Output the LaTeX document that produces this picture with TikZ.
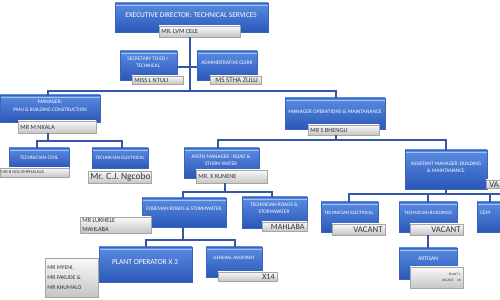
\documentclass[tikz,border=0pt]{standalone}
\usepackage{fontspec}
\setmainfont{Carlito}
\definecolor{boxtop}{HTML}{5A8CE2}
\definecolor{boxbot}{HTML}{2B57B8}
\definecolor{boxedge}{HTML}{3A64C0}
\definecolor{linec}{HTML}{3557A8}
\tikzset{
  bluebox/.style={draw=boxedge, line width=0.3pt, top color=boxtop, bottom color=boxbot, inner sep=0pt,
    path picture={\draw[color=boxtop!55!white, line width=0.7pt] ([yshift=-0.05cm]path picture bounding box.north west) -- ([yshift=-0.05cm]path picture bounding box.north east);}},
  namebox/.style={draw=gray!70, line width=0.3pt, top color=white!96!gray, bottom color=gray!45, inner sep=0pt},
  wlbl/.style={text=white, inner sep=0pt, align=center, font=\fontsize{3}{3.7}\selectfont},
  nlbl/.style={text=black!80, inner sep=0pt, align=left, font=\fontsize{3.6}{4.4}\selectfont},
  conn/.style={draw=linec, line width=0.7pt},
}
\newcommand\obox[5]{\node[bluebox, minimum width={(#4-#2)*0.02cm}, minimum height={(#5-#3)*0.02cm}] (#1) at ({(#2+#4)/2},{(#3+#5)/2}) {};}
\newcommand\nbox[5]{\node[namebox, minimum width={(#4-#2)*0.02cm}, minimum height={(#5-#3)*0.02cm}] (#1) at ({(#2+#4)/2},{(#3+#5)/2}) {};}
\begin{document}
\begin{tikzpicture}[x=0.02cm, y=-0.02cm]
\useasboundingbox (0,0) rectangle (500,300);
\clip (0,0) rectangle (500,300);
\fill[white] (0,0) rectangle (500,300);

% Executive director
\obox{exec}{115}{3}{268}{32}
\node[wlbl, font=\fontsize{4.2}{5}\selectfont] (exect) at (191,15) {EXECUTIVE DIRECTOR: TECHNICAL SERVICES};
\nbox{execn}{159}{26}{240}{37}
\node[nlbl, anchor=west] (execnt) at (161,31.5) {MR. LVM CELE};

% Secretary / admin
\obox{sec}{120}{51}{177}{80}
\node[wlbl, font=\fontsize{3}{3.8}\selectfont] (sect) at (148,62) {SECRETARY TO ED /\\TECHNICAL};
\nbox{secn}{132}{76}{183}{84}
\node[nlbl, anchor=west] (secnt) at (134,80) {MISS L NTULI};
\obox{adm}{197}{51}{257}{80}
\node[wlbl, font=\fontsize{3}{3.8}\selectfont] (admt) at (227,63) {ADMINISTRATIVE CLERK};
\nbox{admn}{210}{76}{261}{84}
\node[nlbl, anchor=west, font=\fontsize{4}{4.6}\selectfont] (admnt) at (215,80) {MS STHA ZULU};

% Managers
\obox{pmu}{0}{95}{100}{122}
\node[wlbl, font=\fontsize{3}{4.8}\selectfont] (pmut) at (50,106) {MANAGER:\\PMU \& BUILDING CONSTRUCTION};
\nbox{pmun}{18}{121}{96}{133}
\node[nlbl, anchor=west] (pmunt) at (20,127) {MR M NKALA};
\obox{ops}{285}{98}{385}{129}
\node[wlbl, font=\fontsize{3.1}{3.8}\selectfont] (opst) at (335,112) {MANAGER OPERATIONS \& MAINTANANCE};
\nbox{opsn}{308}{125}{379}{135}
\node[nlbl, anchor=west] (opsnt) at (310,130) {MR S BHENGU};

% PMU technicians
\obox{tciv}{9}{148}{69}{168}
\node[wlbl, font=\fontsize{3}{3.8}\selectfont] (tcivt) at (39,158) {TECHNICIAN CIVIL};
\nbox{tcivn}{0}{168}{69}{177}
\node[nlbl, anchor=west, font=\fontsize{2.6}{3.2}\selectfont] (tcivnt) at (1,172.5) {MR B NGCAMPHALALA};
\obox{tel}{92}{148}{148}{168}
\node[wlbl, font=\fontsize{2.8}{3.6}\selectfont] (telt) at (120,158) {TECHNICIAN ELECTRICAL};
\nbox{teln}{88}{171}{151}{183}
\node[nlbl, anchor=west, font=\fontsize{5.4}{6.2}\selectfont] (telnt) at (90,177) {Mr. C.J. Ngcobo};

% Asst manager roads
\obox{asst}{184}{148}{259}{178}
\node[wlbl, font=\fontsize{3}{4}\selectfont] (asstt) at (221,160) {ASSTN MANAGER : ROAD \&\\STORM WATER};
\nbox{asstn}{196}{170}{267}{183}
\node[nlbl, anchor=west] (asstnt) at (198,176.5) {MR. X KUNENE};

% Asst manager building
\obox{abm}{405}{150}{487}{189}
\node[wlbl, font=\fontsize{3}{4}\selectfont] (abmt) at (446,167) {ASSISTANT MANAGER: BUILDING\\\& MAINTANANCE};
\nbox{abmn}{486}{180}{530}{188}
\node[nlbl, anchor=west, font=\fontsize{5}{5.5}\selectfont] (abmnt) at (489,184.5) {VA};

% Foreman
\obox{fore}{142}{198}{226}{227}
\node[wlbl, font=\fontsize{3}{3.8}\selectfont] (foret) at (184,209) {FOREMAN ROADS \& STORMWATER};
\nbox{foren}{80}{217}{151}{233}
\node[nlbl, anchor=west, font=\fontsize{3.6}{5.2}\selectfont] (forent) at (82,225) {MR LUKHELE\\MAHLABA};

% Technician roads
\obox{troad}{242}{197}{307}{228}
\node[wlbl, font=\fontsize{3}{4}\selectfont] (troadt) at (274,208) {TECHNICIAN ROADS \&\\STORMWATER};
\nbox{troadn}{262}{222}{307}{231}
\node[nlbl, anchor=east, font=\fontsize{4.6}{5.2}\selectfont] (troadnt) at (305,226.5) {MAHLABA};

% Building technicians
\obox{tel2}{321}{202}{378}{232}
\node[wlbl, font=\fontsize{2.8}{3.6}\selectfont] (tel2t) at (349,213) {TECHNICIAN ELECTRICAL};
\nbox{tel2n}{332}{224}{385}{235}
\node[nlbl, anchor=east, font=\fontsize{5}{5.5}\selectfont] (tel2nt) at (383,229.5) {VACANT};
\obox{tb}{399}{202}{457}{232}
\node[wlbl, font=\fontsize{2.8}{3.6}\selectfont] (tbt) at (428,213) {TECHNICIAN BUILDINGS};
\nbox{tbn}{410}{224}{463}{235}
\node[nlbl, anchor=east, font=\fontsize{5}{5.5}\selectfont] (tbnt) at (461,229.5) {VACANT};
\obox{cem}{477}{202}{530}{232}
\node[wlbl, anchor=west, font=\fontsize{3}{3.6}\selectfont] (cemt) at (480,213) {CEM};

% Artisan
\obox{art}{399}{248}{457}{279}
\node[wlbl, font=\fontsize{3.2}{3.8}\selectfont] (artt) at (428,259) {ARTISAN};
\nbox{artn}{410}{267}{463}{288}
\node[nlbl, anchor=east, align=right, font=\fontsize{2}{3.4}\selectfont] (artnt) at (461,277) {PLANT 1\\VACANT\quad 18};

% Plant operator / general assistant
\obox{plant}{99}{247}{192}{282}
\node[wlbl, font=\fontsize{4.3}{5}\selectfont] (plantt) at (145,262) {PLANT OPERATOR X 3};
\nbox{plantn}{45}{258}{98}{297}
\node[nlbl, anchor=west, font=\fontsize{3.3}{5.6}\selectfont] (plantnt) at (47,277.5) {MR MYENI,\\MR FAKUDE \&\\MR KHUMALO};
\obox{ga}{206}{247}{262}{277}
\node[wlbl, font=\fontsize{2.8}{3.6}\selectfont] (gat) at (234,258) {GENERAL ASSISTANT};
\nbox{gan}{218}{272}{277}{281}
\node[nlbl, anchor=east, font=\fontsize{4.6}{5.2}\selectfont] (gant) at (275,276.5) {X14};

% Connectors
\coordinate (jc) at (190,91);
\coordinate (jl) at (48,91);
\coordinate (jr) at (336,91);
\coordinate (js) at (190,67);
\draw[conn] (execn.south -| jc) -- (jc);
\draw[conn] (sec.east |- js) -- (adm.west |- js);
\draw[conn] (pmu.north -| jl) -- (jl) -- (jr) -- (ops.north -| jr);

\coordinate (p1) at (48,141);
\coordinate (p2) at (37,141);
\coordinate (p3) at (122,141);
\draw[conn] (pmun.south -| p1) -- (p1);
\draw[conn] (tciv.north -| p2) -- (p2) -- (p3) -- (tel.north -| p3);

\coordinate (o1) at (336,140);
\coordinate (o2) at (218,140);
\coordinate (o3) at (446,140);
\draw[conn] (opsn.south -| o1) -- (o1);
\draw[conn] (asst.north -| o2) -- (o2) -- (o3) -- (abm.north -| o3);

\coordinate (a1) at (225,192);
\coordinate (a2) at (183,192);
\coordinate (a3) at (272,192);
\draw[conn] (asstn.south -| a1) -- (a1);
\draw[conn] (fore.north -| a2) -- (a2) -- (a3) -- (troad.north -| a3);

\coordinate (f1) at (183,240);
\coordinate (f2) at (146,240);
\coordinate (f3) at (235,240);
\draw[conn] (fore.south -| f1) -- (f1);
\draw[conn] (plant.north -| f2) -- (f2) -- (f3) -- (ga.north -| f3);

\coordinate (b1) at (446,194);
\coordinate (b2) at (349,194);
\coordinate (b3) at (428,194);
\coordinate (b4) at (490,194);
\coordinate (b5) at (500,194);
\draw[conn] (abm.south -| b1) -- (b1);
\draw[conn] (tel2.north -| b2) -- (b2) -- (b5);
\draw[conn] (b3) -- (tb.north -| b3);
\draw[conn] (b4) -- (cem.north -| b4);

\coordinate (t1) at (428,240);
\draw[conn] (tbn.south -| t1) -- (art.north -| t1);
\end{tikzpicture}
\end{document}
